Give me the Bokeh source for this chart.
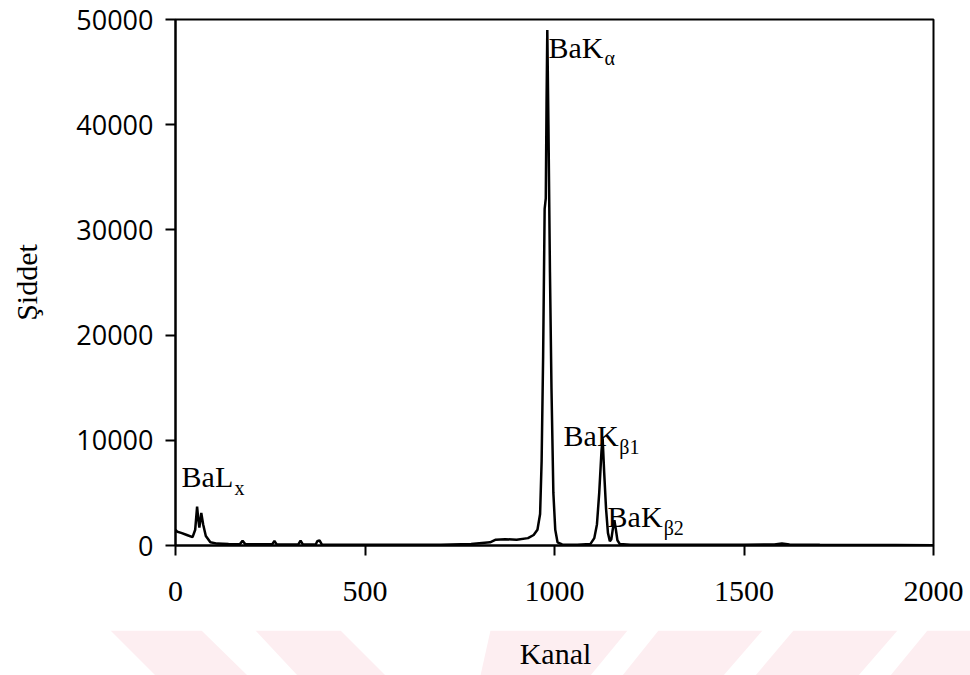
from bokeh.plotting import figure
from bokeh.models import Range1d, FixedTicker, ColumnDataSource
from bokeh.layouts import column
from bokeh.core.properties import value
from bokeh.embed import file_html
from bokeh.resources import INLINE

# ---- data ----
channel = [0, 5, 15, 30, 45, 52, 57, 60, 63, 68, 73, 80, 92, 110, 140, 170, 177, 184,
           200, 255, 261, 267, 300, 324, 330, 336, 370, 374, 380, 386, 420, 500, 600,
           700, 780, 830, 845, 870, 900, 930, 945, 955, 962, 966, 970, 974, 977, 979,
           981, 984, 988, 992, 997, 1002, 1008, 1020, 1060, 1095, 1105, 1112, 1118, 1124,
           1127, 1131, 1136, 1141, 1146, 1150, 1154, 1158, 1162, 1166, 1172, 1200, 1300,
           1400, 1500, 1580, 1600, 1620, 1700, 1800, 1900, 2000]
intensity = [1500, 1300, 1200, 1000, 800, 1500, 3700, 2500, 1700, 3100, 2000, 900, 300,
             180, 150, 130, 450, 130, 120, 110, 420, 110, 100, 100, 450, 100, 100, 400,
             480, 100, 80, 60, 60, 80, 150, 300, 550, 600, 550, 700, 1000, 1500, 3000,
             8000, 18000, 32000, 33000, 42000, 49000, 40000, 26000, 15000, 5000, 1500,
             300, 100, 80, 150, 700, 2000, 5000, 9000, 10200, 7000, 3500, 1200, 400, 600,
             1600, 2400, 1500, 500, 150, 80, 60, 60, 70, 100, 180, 100, 60, 50, 40, 30]

x_ticks = [0, 500, 1000, 1500, 2000]
y_ticks = [0, 10000, 20000, 30000, 40000, 50000]

# peak labels: main text, subscript, anchor channel/intensity
label_main = ["BaL", "BaK", "BaK", "BaK"]
label_sub = ["x", "\u03b1", "\u03b21", "\u03b22"]
label_x = [16, 984, 1024, 1140]
label_y = [6530, 47350, 10420, 2750]
sub_x = [156, 1132, 1171, 1288]
sub_y = [5490, 46300, 9375, 1700]

serif = "Liberation Serif"

p = figure(width=970, height=630, output_backend="svg", toolbar_location=None,
           x_range=Range1d(0, 2000), y_range=Range1d(0, 50000),
           min_border_left=175, min_border_right=37, min_border_top=19,
           min_border_bottom=85)
p.frame_align = False

p.line(channel, intensity, line_color="black", line_width=2.5)

src = ColumnDataSource(dict(x=label_x, y=label_y, t=label_main))
p.text(x="x", y="y", text="t", source=src, text_font=value(serif),
       text_font_size="30px", text_color="black", text_baseline="alphabetic",
       text_align="left")
src2 = ColumnDataSource(dict(x=sub_x, y=sub_y, t=label_sub))
p.text(x="x", y="y", text="t", source=src2, text_font=value(serif),
       text_font_size="20px", text_color="black", text_baseline="alphabetic",
       text_align="left")

p.grid.visible = False
p.outline_line_color = "black"
p.outline_line_width = 2

xa = p.xaxis[0]
xa.ticker = FixedTicker(ticks=x_ticks)
xa.major_label_text_font = serif
xa.major_label_text_font_size = "30px"
xa.major_label_text_color = "black"
xa.major_label_standoff = 26
xa.axis_line_width = 2
xa.axis_line_color = "black"
xa.major_tick_line_width = 2
xa.major_tick_line_color = "black"
xa.major_tick_out = 10
xa.major_tick_in = 0
xa.minor_tick_line_color = None

ya = p.yaxis[0]
ya.ticker = FixedTicker(ticks=y_ticks)
ya.axis_label = "\u015eiddet"
ya.axis_label_text_font = serif
ya.axis_label_text_font_size = "30px"
ya.axis_label_text_font_style = "normal"
ya.axis_label_text_color = "black"
ya.axis_label_standoff = 30
ya.major_label_text_font = "Open Sans"
ya.major_label_text_font_size = "27px"
ya.major_label_text_color = "black"
ya.major_label_standoff = 12
ya.axis_line_width = 2
ya.axis_line_color = "black"
ya.major_tick_line_width = 2
ya.major_tick_line_color = "black"
ya.major_tick_out = 10
ya.major_tick_in = 0
ya.minor_tick_line_color = None

# bottom strip: watermark stripes behind the x-axis title "Kanal"
pink = "#fdeef1"
stripe_xs = [[110, 201, 247, 155], [255, 340, 385, 297], [490, 627, 590, 480],
             [658, 762, 723, 622], [793, 897, 858, 755], [927, 970, 970, 890]]
stripe_ys = [[630, 630, 675, 675]] * 6

q = figure(width=970, height=45, output_backend="svg", toolbar_location=None,
           x_range=Range1d(0, 970), y_range=Range1d(675, 630),
           x_axis_type=None, y_axis_type=None,
           min_border_left=0, min_border_right=0, min_border_top=0, min_border_bottom=0)
q.frame_align = False
q.patches(stripe_xs, stripe_ys, fill_color=pink, line_color=None)
q.text(x=[555], y=[653], text=["Kanal"], text_font=value(serif), text_font_size="30px",
       text_color="black", text_align="center", text_baseline="middle")
q.grid.visible = False
q.outline_line_color = None

layout = column(p, q, spacing=0)
open("out.html", "w").write(file_html(layout, INLINE))
